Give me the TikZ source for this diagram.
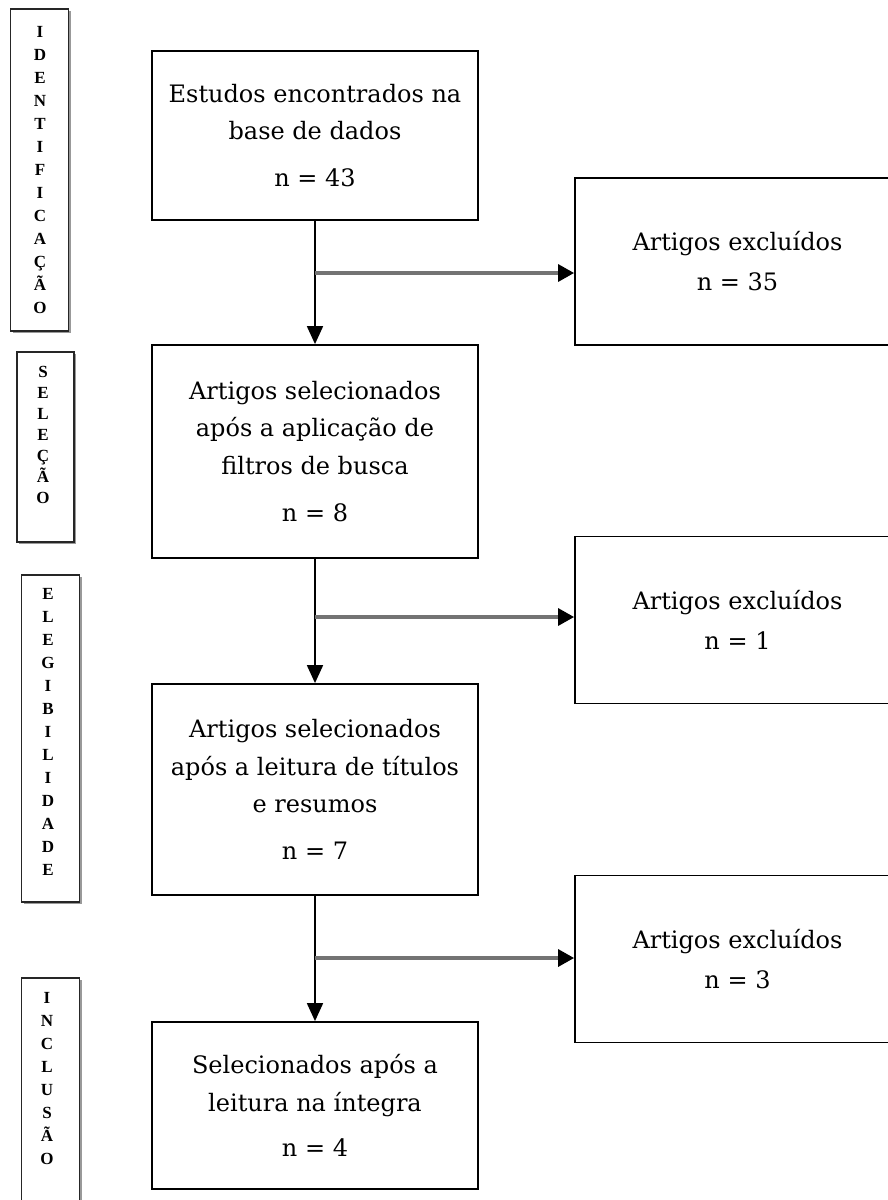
\documentclass[tikz,border=0pt]{standalone}
\usepackage{fontspec}
\setmainfont{DejaVu Serif}
\newfontfamily\stagefont{Liberation Serif}
\usetikzlibrary{arrows.meta,shadows}

\tikzset{
  flowbox/.style={draw=black, line width=1.8pt, fill=white, inner sep=0pt,
    align=center, minimum width=326pt, font=\fontsize{24}{37.5}\selectfont},
  exclbox/.style={flowbox, minimum width=325pt, minimum height=167pt},
  stagebox/.style={draw=black!85, line width=1.4pt, fill=white, inner sep=0pt,
    minimum width=58pt,
    drop shadow={shadow xshift=2pt, shadow yshift=-2pt, fill=black!40, opacity=1}},
  stagetext/.style={inner sep=0pt, align=center,
    font=\stagefont\bfseries\fontsize{17}{23}\selectfont},
  downarrow/.style={line width=1.8pt, -{Triangle[length=18pt,width=16pt]}},
  sidearrow/.style={draw=black!55, line width=3.2pt,
    -{Triangle[length=16pt,width=17pt,color=black]}},
}

\begin{document}
\begin{tikzpicture}[x=1pt,y=-1pt]
  % canvas (right boxes and last stage run off the page)
  \useasboundingbox (0,0) rectangle (888,1200);
  \clip (0,0) rectangle (888,1200);

  % column positions
  \pgfmathsetmacro{\midx}{315}
  \pgfmathsetmacro{\sidex}{737.5}

  % stage boxes on the left
  \node[stagebox, minimum height=322pt] (identif) at (39.5,170) {};
  \node[stagetext] (identiftxt) at (40,170)
    {I\\D\\E\\N\\T\\I\\F\\I\\C\\A\\Ç\\Ã\\O};
  \node[stagebox, minimum width=57pt, minimum height=190pt] (selecao) at (45.5,447) {};
  \node[stagetext, font=\stagefont\bfseries\fontsize{17}{21}\selectfont]
    (selecaotxt) at (43,434.5) {S\\E\\L\\E\\Ç\\Ã\\O};
  \node[stagebox, minimum height=327pt] (elegib) at (50.5,738.5) {};
  \node[stagetext] (elegibtxt) at (48,731.5)
    {E\\L\\E\\G\\I\\B\\I\\L\\I\\D\\A\\D\\E};
  \node[stagebox, minimum height=244pt] (inclusao) at (50.5,1100) {};
  \node[stagetext] (inclusaotxt) at (47,1078.5) {I\\N\\C\\L\\U\\S\\Ã\\O};

  % main column
  \node[flowbox, minimum height=169pt] (estudos) at (\midx,135.5)
    {Estudos encontrados na\\ base de dados\\[9pt] n = 43};
  \node[flowbox, minimum height=213pt] (filtros) at (\midx,451.5)
    {Artigos selecionados\\ após a aplicação de\\ filtros de busca\\[10pt] n = 8};
  \node[flowbox, minimum height=211pt] (titulos) at (\midx,789.5)
    {Artigos selecionados\\ após a leitura de títulos\\ e resumos\\[9pt] n = 7};
  \node[flowbox, minimum height=167pt] (integra) at (\midx,1105.5)
    {Selecionados após a\\ leitura na íntegra\\[8pt] n = 4};

  % excluded articles
  \node[exclbox] (excl1) at (\sidex,261.5) {Artigos excluídos\\[2.5pt] n = 35};
  \node[exclbox] (excl2) at (\sidex,620) {Artigos excluídos\\[2.5pt] n = 1};
  \node[exclbox] (excl3) at (\sidex,959) {Artigos excluídos\\[2.5pt] n = 3};

  % flow arrows
  \draw[downarrow] (estudos) -- (filtros);
  \draw[downarrow] (filtros) -- (titulos);
  \draw[downarrow] (titulos) -- (integra);

  % branch points and side arrows
  \coordinate (split1) at (\midx,273);
  \coordinate (split2) at (\midx,617);
  \coordinate (split3) at (\midx,958);
  \draw[sidearrow] (split1) -- (split1 -| excl1.west);
  \draw[sidearrow] (split2) -- (split2 -| excl2.west);
  \draw[sidearrow] (split3) -- (split3 -| excl3.west);
\end{tikzpicture}
\end{document}
